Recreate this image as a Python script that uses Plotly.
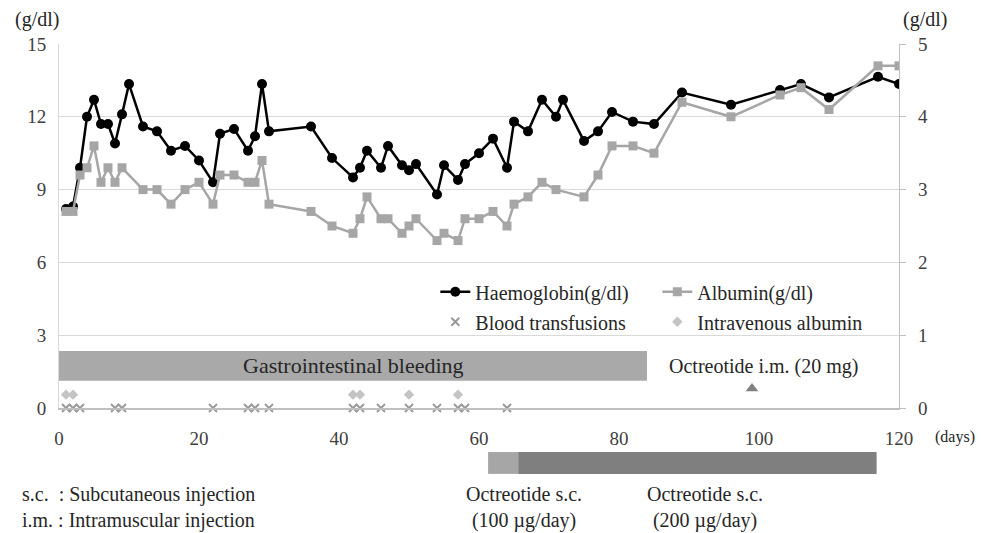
import plotly.graph_objects as go

# ---------------- data ----------------
hb_days = [1, 2, 3, 4, 5, 6, 7, 8, 9, 10, 12, 14, 16, 18, 20, 22, 23, 25, 27, 28, 29, 30,
           36, 39, 42, 43, 44, 46, 47, 49, 50, 51, 54, 55, 57, 58, 60, 62, 64, 65, 67, 69,
           71, 72, 75, 77, 79, 82, 85, 89, 96, 103, 106, 110, 117, 120]
hb_vals = [8.2, 8.3, 9.9, 12.0, 12.7, 11.7, 11.7, 10.9, 12.1, 13.35, 11.6, 11.4, 10.6, 10.8, 10.2,
           9.3, 11.3, 11.5, 10.6, 11.2, 13.35, 11.4, 11.6, 10.3, 9.5, 9.9, 10.6, 9.9, 10.8, 10.0,
           9.8, 10.05, 8.8, 10.0, 9.4, 10.05, 10.5, 11.1, 9.9, 11.8, 11.4, 12.7, 12.0, 12.7, 11.0,
           11.4, 12.2, 11.8, 11.7, 13.0, 12.5, 13.1, 13.35, 12.8, 13.65, 13.35]

alb_days = [1, 2, 3, 4, 5, 6, 7, 8, 9, 12, 14, 16, 18, 20, 22, 23, 25, 27, 28, 29, 30,
            36, 39, 42, 43, 44, 46, 47, 49, 50, 51, 54, 55, 57, 58, 60, 62, 64, 65, 67, 69,
            71, 75, 77, 79, 82, 85, 89, 96, 103, 106, 110, 117, 120]
alb_vals = [2.7, 2.7, 3.2, 3.3, 3.6, 3.1, 3.3, 3.1, 3.3, 3.0, 3.0, 2.8, 3.0, 3.1, 2.8, 3.2, 3.2,
            3.1, 3.1, 3.4, 2.8, 2.7, 2.5, 2.4, 2.6, 2.9, 2.6, 2.6, 2.4, 2.5, 2.6, 2.3, 2.4, 2.3,
            2.6, 2.6, 2.7, 2.5, 2.8, 2.9, 3.1, 3.0, 2.9, 3.2, 3.6, 3.6, 3.5, 4.2, 4.0, 4.3, 4.4,
            4.1, 4.7, 4.7]

transfusion_days = [1, 2, 3, 8, 9, 22, 27, 28, 30, 42, 43, 46, 50, 54, 57, 58, 64]
transfusion_level = 0
iv_albumin_days = [1, 2, 42, 43, 50, 57]
iv_albumin_level = 0.55

im_days = [99]
im_level = 0.8

bleeding_period = [0, 84]
bleeding_band = [1.12, 2.35]
sc100_period = [61.3, 65.6]
sc200_period = [65.6, 116.8]

x_ticks = [0, 20, 40, 60, 80, 100, 120]
y_left_ticks = [0, 3, 6, 9, 12, 15]
y_right_ticks = [0, 1, 2, 3, 4, 5]

# ---------------- styling ----------------
FONT = "Liberation Serif"
TXT = "#262626"
TICK = "#404040"

fig = go.Figure()

fig.add_trace(go.Scatter(
    x=hb_days, y=hb_vals, name="Haemoglobin(g/dl)", mode="lines+markers",
    line=dict(color="#000000", width=2.5),
    marker=dict(symbol="circle", size=10, color="#000000"),
    yaxis="y", legend="legend"))

fig.add_trace(go.Scatter(
    x=alb_days, y=alb_vals, name="Albumin(g/dl)", mode="lines+markers",
    line=dict(color="#a6a6a6", width=2.5),
    marker=dict(symbol="square", size=9, color="#a6a6a6"),
    yaxis="y2", legend="legend"))

fig.add_trace(go.Scatter(
    x=transfusion_days, y=[transfusion_level] * len(transfusion_days),
    name="Blood transfusions", mode="markers",
    marker=dict(symbol="x-thin", size=8, color="#9a9a9a", line=dict(width=2, color="#9a9a9a")),
    cliponaxis=False, yaxis="y", legend="legend2"))

fig.add_trace(go.Scatter(
    x=iv_albumin_days, y=[iv_albumin_level] * len(iv_albumin_days),
    name="Intravenous albumin", mode="markers",
    marker=dict(symbol="diamond", size=8, color="#c4c4c4"),
    cliponaxis=False, yaxis="y", legend="legend2"))

fig.add_trace(go.Scatter(
    x=im_days, y=[im_level] * len(im_days), mode="markers", showlegend=False,
    marker=dict(symbol="triangle-up", size=11, color="#808080"),
    yaxis="y"))

# Gastrointestinal bleeding band
fig.add_shape(type="rect", xref="x", yref="y",
              x0=bleeding_period[0], x1=bleeding_period[1],
              y0=bleeding_band[0], y1=bleeding_band[1],
              fillcolor="#a9a9a9", line=dict(width=0), layer="below")

# Octreotide s.c. bars below axis
fig.add_shape(type="rect", xref="x", yref="paper",
              x0=sc100_period[0], x1=sc100_period[1], y0=-0.181, y1=-0.121,
              fillcolor="#a6a6a6", line=dict(width=0))
fig.add_shape(type="rect", xref="x", yref="paper",
              x0=sc200_period[0], x1=sc200_period[1], y0=-0.181, y1=-0.121,
              fillcolor="#7f7f7f", line=dict(width=0))

ann_font = dict(family=FONT, size=20, color=TXT)
C = dict(xanchor="center", yanchor="middle", showarrow=False)
annotations = [
    dict(text="Gastrointestinal bleeding", x=sum(bleeding_period) / 2, y=sum(bleeding_band) / 2,
         xref="x", yref="y", font=dict(family=FONT, size=22, color=TXT), **C),
    dict(text="Octreotide i.m. (20 mg)", x=100.6, y=1.72, xref="x", yref="y",
         font=ann_font, **C),
    dict(text="Octreotide s.c.<br>(100 µg/day)", x=66.4, y=-0.272, xref="x", yref="paper",
         font=ann_font, **C),
    dict(text="Octreotide s.c.<br>(200 µg/day)", x=92.3, y=-0.272, xref="x", yref="paper",
         font=ann_font, **C),
    dict(text="s.c.  : Subcutaneous injection<br>i.m. : Intramuscular injection",
         x=-0.046, y=-0.272, xref="paper", yref="paper", xanchor="left", yanchor="middle",
         align="left", showarrow=False, font=ann_font),
    dict(text="(g/dl)", x=-0.026, y=1.066, xref="paper", yref="paper",
         font=ann_font, **C),
    dict(text="(g/dl)", x=1.031, y=1.066, xref="paper", yref="paper",
         font=ann_font, **C),
    dict(text="(days)", x=1.067, y=-0.08, xref="paper", yref="paper",
         font=dict(family=FONT, size=16, color=TXT), **C),
]

legend_common = dict(orientation="h", xanchor="left", yanchor="middle",
                     bgcolor="rgba(0,0,0,0)", borderwidth=0,
                     font=dict(family=FONT, size=20, color=TXT),
                     entrywidth=177, entrywidthmode="pixels", itemwidth=30)

# the page body adds an 8px offset, so the figure is sized to fill the window exactly
fig.update_layout(
    width=981, height=525,
    margin=dict(l=51, r=90, t=36, b=125),
    paper_bgcolor="white", plot_bgcolor="white",
    font=dict(family=FONT, size=19, color=TICK),
    xaxis=dict(range=[0, 120], tickvals=x_ticks, showgrid=False, zeroline=False,
               showline=True, linecolor="#bfbfbf", linewidth=1.5,
               ticks="", ticklabelstandoff=12,
               tickfont=dict(family=FONT, size=19, color=TICK)),
    yaxis=dict(range=[0, 15], tickvals=y_left_ticks, showgrid=True, gridcolor="#d9d9d9",
               gridwidth=1.3, zeroline=False, showline=True, linecolor="#d9d9d9",
               ticks="", ticklabelstandoff=8,
               tickfont=dict(family=FONT, size=19, color=TICK)),
    yaxis2=dict(range=[0, 5], tickvals=y_right_ticks, overlaying="y", side="right",
                showgrid=False, zeroline=False, showline=True, linecolor="#bfbfbf",
                linewidth=1.3, ticks="outside", ticklen=6, tickcolor="#bfbfbf",
                ticklabelstandoff=8,
                tickfont=dict(family=FONT, size=19, color=TICK)),
    legend=dict(x=0.448, y=0.3195, **legend_common),
    legend2=dict(x=0.448, y=0.237, **legend_common),
    annotations=annotations,
    showlegend=True,
)

fig.write_html("out.html")
